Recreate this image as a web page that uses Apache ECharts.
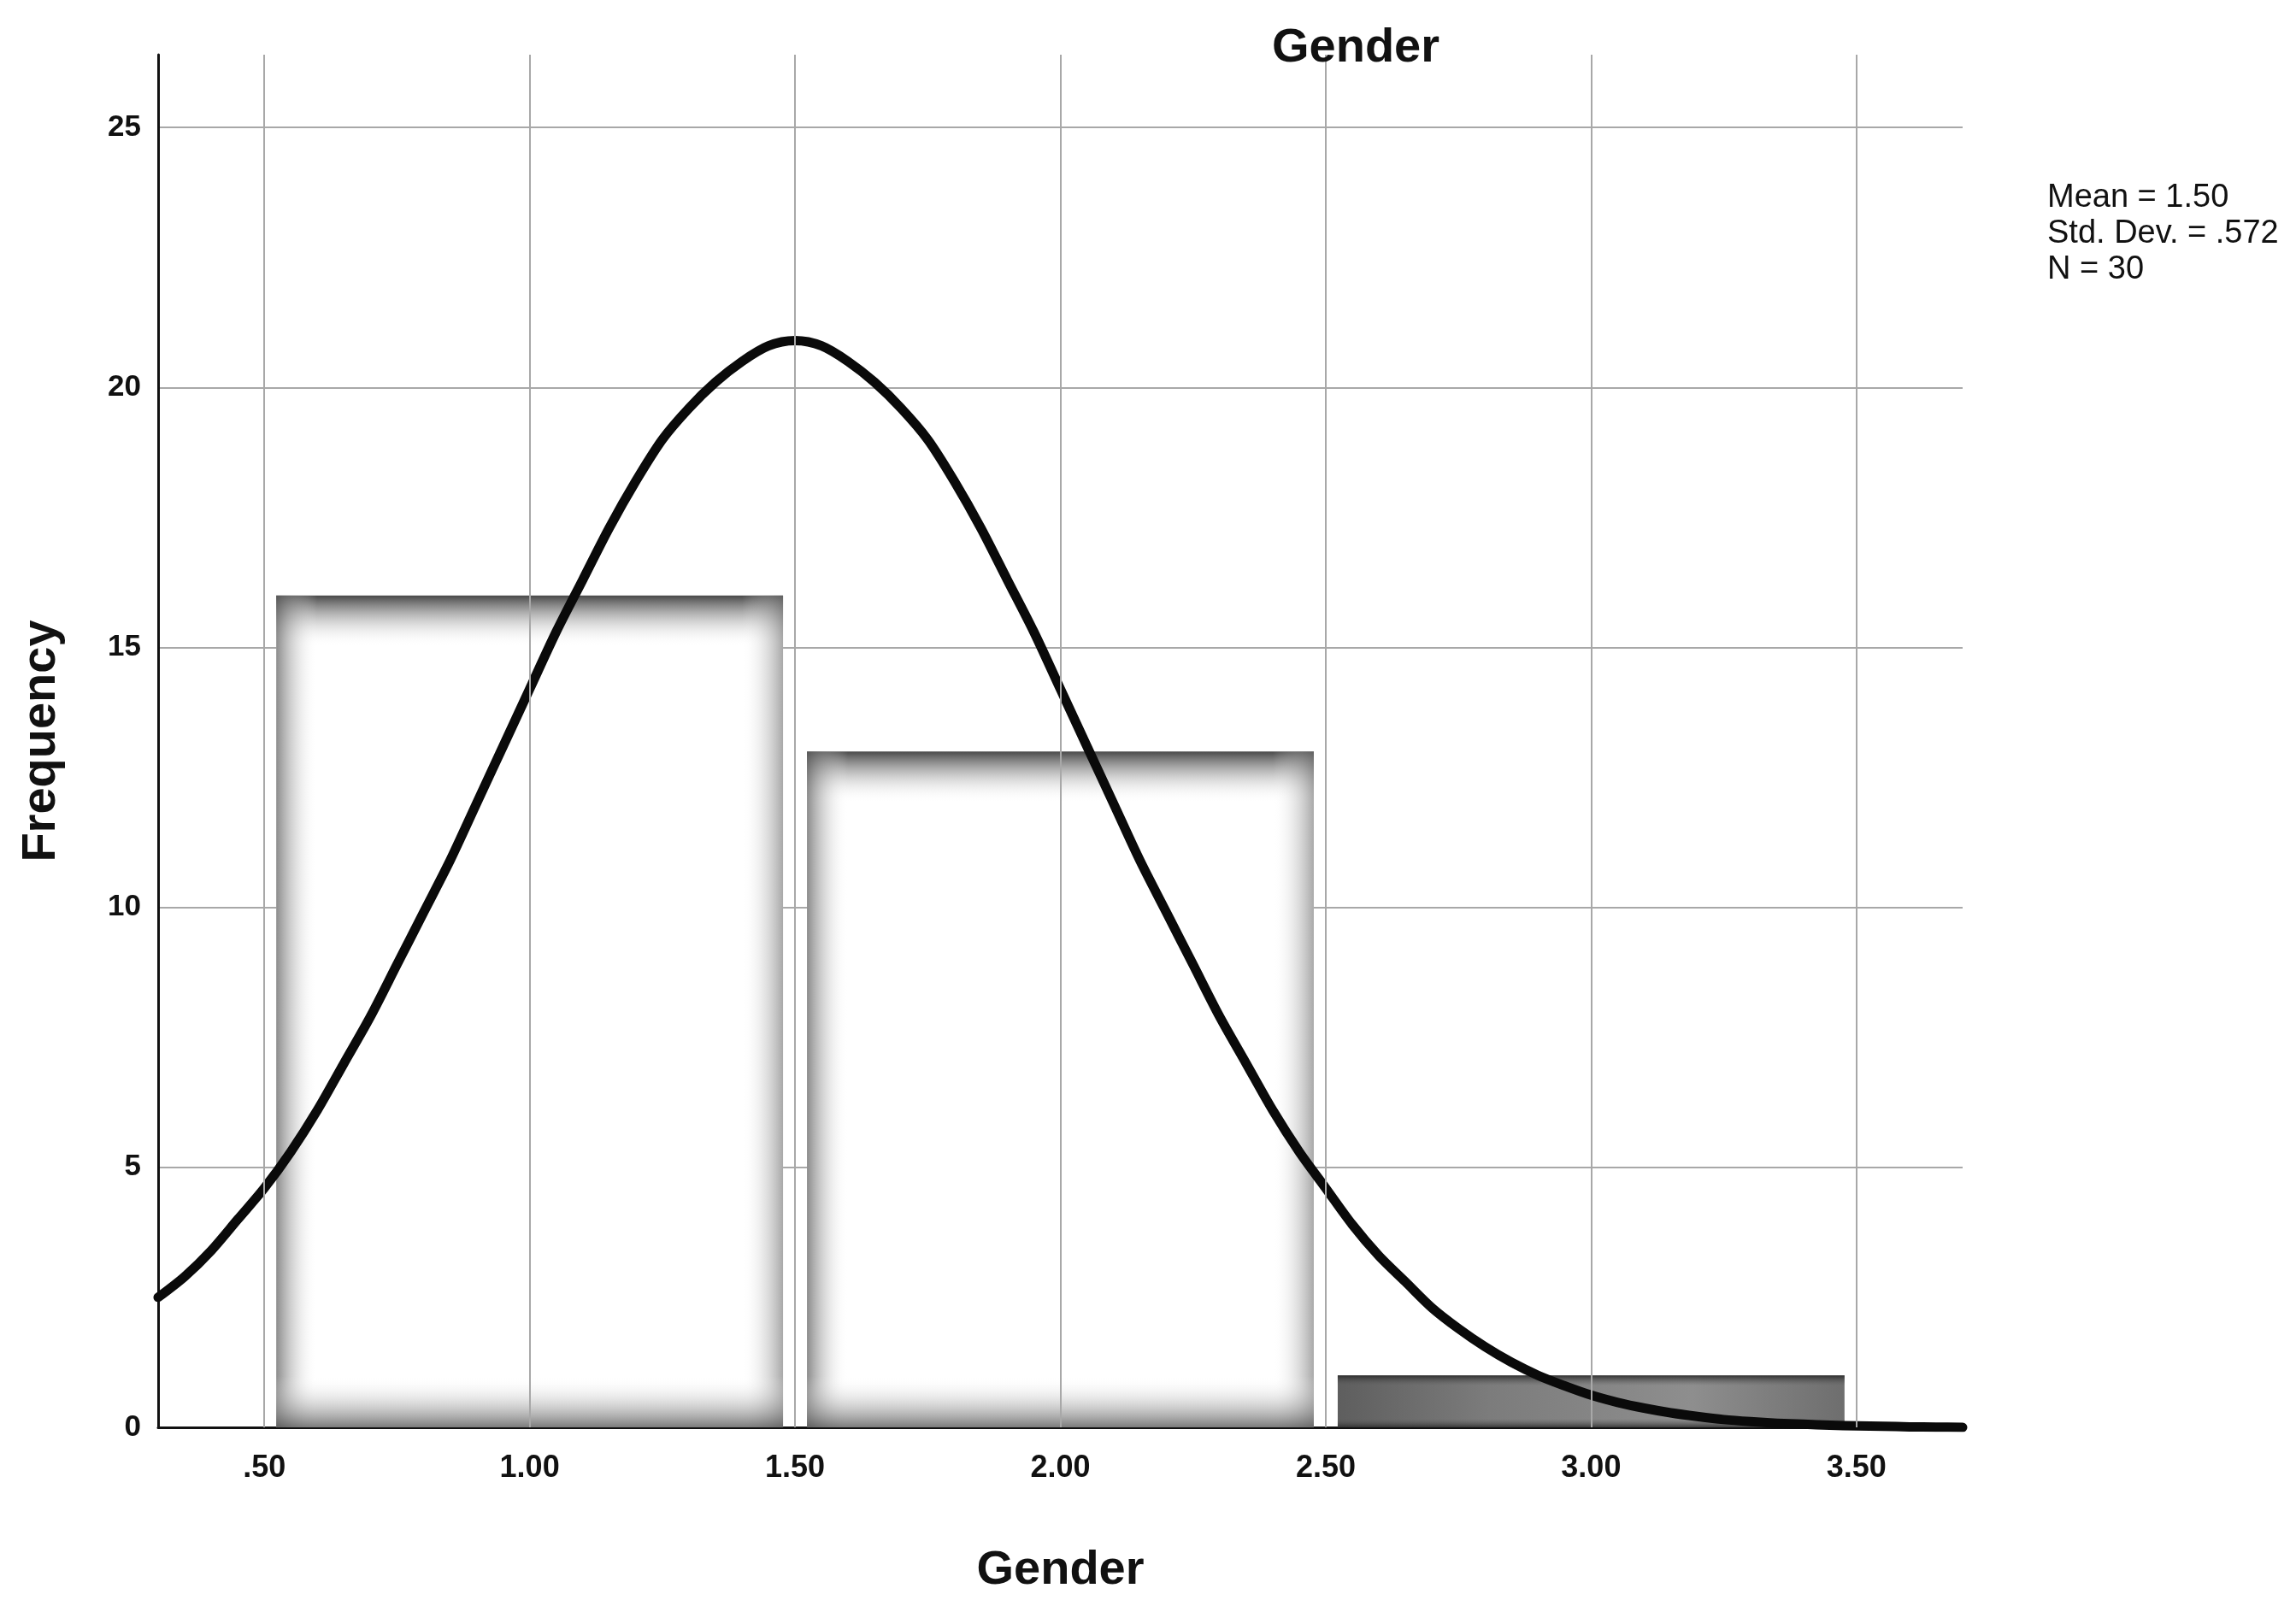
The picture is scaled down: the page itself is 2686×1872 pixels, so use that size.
<!DOCTYPE html>
<html>
<head>
<meta charset="utf-8">
<script src="https://cdn.jsdelivr.net/npm/echarts@6/dist/echarts.min.js"></script>
<style>
html,body{margin:0;padding:0;background:#fff;}
#chart{width:2686px;height:1872px;}
</style>
</head>
<body>
<div id="chart"></div>
<script>
// ---- data ----
const binStarts = [0.5, 1.5, 2.5];
const binEnds = [1.5, 2.5, 3.5];
const frequencies = [16, 13, 1];

const curveX = [0.30, 0.35, 0.40, 0.45, 0.50, 0.55, 0.60, 0.65, 0.70, 0.75, 0.80, 0.85, 0.90, 0.95,
                1.00, 1.05, 1.10, 1.15, 1.20, 1.25, 1.30, 1.35, 1.40, 1.45, 1.50, 1.55, 1.60, 1.65,
                1.70, 1.75, 1.80, 1.85, 1.90, 1.95, 2.00, 2.05, 2.10, 2.15, 2.20, 2.25, 2.30, 2.35,
                2.40, 2.45, 2.50, 2.55, 2.60, 2.65, 2.70, 2.75, 2.80, 2.85, 2.90, 2.95, 3.00, 3.05,
                3.10, 3.15, 3.20, 3.25, 3.30, 3.35, 3.40, 3.45, 3.50, 3.55, 3.60, 3.65, 3.70];
const curveY = [2.5, 2.9, 3.4, 4.0, 4.6, 5.3, 6.1, 7.0, 7.9, 8.9, 9.9, 10.9, 12.0, 13.1,
                14.2, 15.3, 16.3, 17.3, 18.2, 19.0, 19.6, 20.1, 20.5, 20.8, 20.9, 20.8, 20.5, 20.1,
                19.6, 19.0, 18.2, 17.3, 16.3, 15.3, 14.2, 13.1, 12.0, 10.9, 9.9, 8.9, 7.9, 7.0,
                6.1, 5.3, 4.6, 3.9, 3.3, 2.8, 2.3, 1.9, 1.55, 1.25, 1.0, 0.8, 0.62, 0.48,
                0.37, 0.28, 0.21, 0.15, 0.11, 0.08, 0.06, 0.04, 0.03, 0.02, 0.01, 0.005, 0.0];

const xTickValues = [0.5, 1.0, 1.5, 2.0, 2.5, 3.0, 3.5];
const xTickLabels = ['.50', '1.00', '1.50', '2.00', '2.50', '3.00', '3.50'];
const yTickValues = [0, 5, 10, 15, 20, 25];

const statsLines = ['Mean = 1.50', 'Std. Dev. = .572', 'N = 30'];
const chartTitle = 'Gender';
const xName = 'Gender';
const yName = 'Frequency';

// ---- styles (kept apart from data) ----
const darkBar = [false, false, true];
const FONT = 'Liberation Sans, Arial, Helvetica, sans-serif';

const barData = binStarts.map((s, i) => [s, binEnds[i], frequencies[i]]);
const curveData = curveX.map((x, i) => [x, curveY[i]]);

function grad(x0, y0, x1, y1, c0, c1) {
  return { type: 'linear', x: x0, y: y0, x2: x1, y2: y1,
    colorStops: [{ offset: 0, color: c0 }, { offset: 1, color: c1 }] };
}

function renderBar(params, api) {
  const s = api.value(0), e = api.value(1), v = api.value(2);
  const pTop = api.coord([s, v]);
  const pBot = api.coord([e, 0]);
  const gap = 14;
  const x = pTop[0] + gap;
  const w = pBot[0] - pTop[0] - 2 * gap;
  const y = pTop[1];
  const h = pBot[1] - pTop[1];
  if (darkBar[params.dataIndex]) {
    return {
      type: 'group',
      children: [
        { type: 'rect', shape: { x, y, width: w, height: h },
          style: { fill: { type: 'linear', x: 0, y: 0, x2: 1, y2: 0, colorStops: [
            { offset: 0, color: '#5e5e5e' }, { offset: 0.3, color: '#7c7c7c' },
            { offset: 0.7, color: '#8e8e8e' }, { offset: 1, color: '#6e6e6e' }] } } },
        { type: 'rect', shape: { x, y, width: w, height: Math.min(12, h * 0.25) },
          style: { fill: grad(0, 0, 0, 1, 'rgba(40,40,40,0.9)', 'rgba(90,90,90,0)') } },
        { type: 'rect', shape: { x, y: y + h - 10, width: w, height: 10 },
          style: { fill: grad(0, 1, 0, 0, 'rgba(40,40,40,0.8)', 'rgba(90,90,90,0)') } }
      ]
    };
  }
  const edge = Math.min(60, h * 0.45);
  const side = Math.min(48, w * 0.2);
  return {
    type: 'group',
    children: [
      { type: 'rect', shape: { x, y, width: w, height: h }, style: { fill: '#ffffff' } },
      { type: 'rect', shape: { x, y, width: w, height: edge },
        style: { fill: grad(0, 0, 0, 1, 'rgba(40,40,40,0.85)', 'rgba(255,255,255,0)') } },
      { type: 'rect', shape: { x, y, width: side, height: h },
        style: { fill: grad(0, 0, 1, 0, 'rgba(90,90,90,0.7)', 'rgba(255,255,255,0)') } },
      { type: 'rect', shape: { x: x + w - side, y, width: side, height: h },
        style: { fill: grad(1, 0, 0, 0, 'rgba(110,110,110,0.6)', 'rgba(255,255,255,0)') } },
      { type: 'rect', shape: { x, y: y + h - edge, width: w, height: edge },
        style: { fill: grad(0, 1, 0, 0, 'rgba(80,80,80,0.75)', 'rgba(255,255,255,0)') } }
    ]
  };
}

const chart = echarts.init(document.getElementById('chart'), null, { renderer: 'canvas' });
chart.setOption({
  backgroundColor: '#ffffff',
  animation: false,
  textStyle: { fontFamily: FONT },
  title: [
    { text: chartTitle, left: 1483, top: 24,
      textStyle: { fontSize: 56, fontWeight: 'bold', color: '#111', fontFamily: FONT } },
    { text: statsLines.join('\n'), left: 2390, top: 206,
      textStyle: { fontSize: 38, fontWeight: 'normal', color: '#111', lineHeight: 42, fontFamily: FONT } }
  ],
  grid: { left: 185, right: 390, top: 64, bottom: 202, containLabel: false },
  xAxis: {
    type: 'value', min: 0.3, max: 3.7,
    name: xName, nameLocation: 'middle', nameGap: 140,
    nameTextStyle: { fontSize: 56, fontWeight: 'bold', color: '#111', fontFamily: FONT },
    axisLine: { show: true, lineStyle: { color: '#111', width: 3 } },
    axisTick: { show: false },
    splitLine: { show: false },
    axisLabel: {
      customValues: xTickValues,
      fontSize: 36, fontWeight: 'bold', color: '#111', margin: 30, fontFamily: FONT,
      formatter: function (v) {
        const i = xTickValues.findIndex(t => Math.abs(t - v) < 1e-6);
        return i >= 0 ? xTickLabels[i] : '';
      }
    }
  },
  yAxis: {
    type: 'value', min: 0, max: 26.4, interval: 5,
    name: yName, nameLocation: 'middle', nameGap: 108, nameRotate: 90,
    nameTextStyle: { fontSize: 56, fontWeight: 'bold', color: '#111', fontFamily: FONT },
    axisLine: { show: true, lineStyle: { color: '#111', width: 3 } },
    axisTick: { show: false },
    splitLine: { show: true, showMaxLine: false, showMinLine: false, lineStyle: { color: '#a8a8a8', width: 2 } },
    axisLabel: {
      fontSize: 35, fontWeight: 'bold', color: '#111', margin: 20, fontFamily: FONT,
      showMaxLabel: false,
      formatter: function (v) { return yTickValues.indexOf(v) >= 0 ? String(v) : ''; }
    }
  },
  series: [
    {
      type: 'line', name: 'grid', data: [], z: 1, silent: true,
      markLine: {
        silent: true, symbol: ['none', 'none'], label: { show: false },
        lineStyle: { color: '#a8a8a8', width: 2, type: 'solid' },
        emphasis: { disabled: true },
        data: xTickValues.map(v => ({ xAxis: v }))
      }
    },
    {
      type: 'custom', name: 'Frequency', z: 2, silent: true,
      renderItem: renderBar,
      encode: { x: [0, 1], y: 2 },
      data: barData
    },
    {
      type: 'line', name: 'Normal', z: 3, silent: true,
      data: curveData, smooth: 0.3, showSymbol: false, symbol: 'none',
      lineStyle: { color: '#0a0a0a', width: 11, join: 'round', cap: 'round' }
    }
  ]
});
</script>
</body>
</html>
